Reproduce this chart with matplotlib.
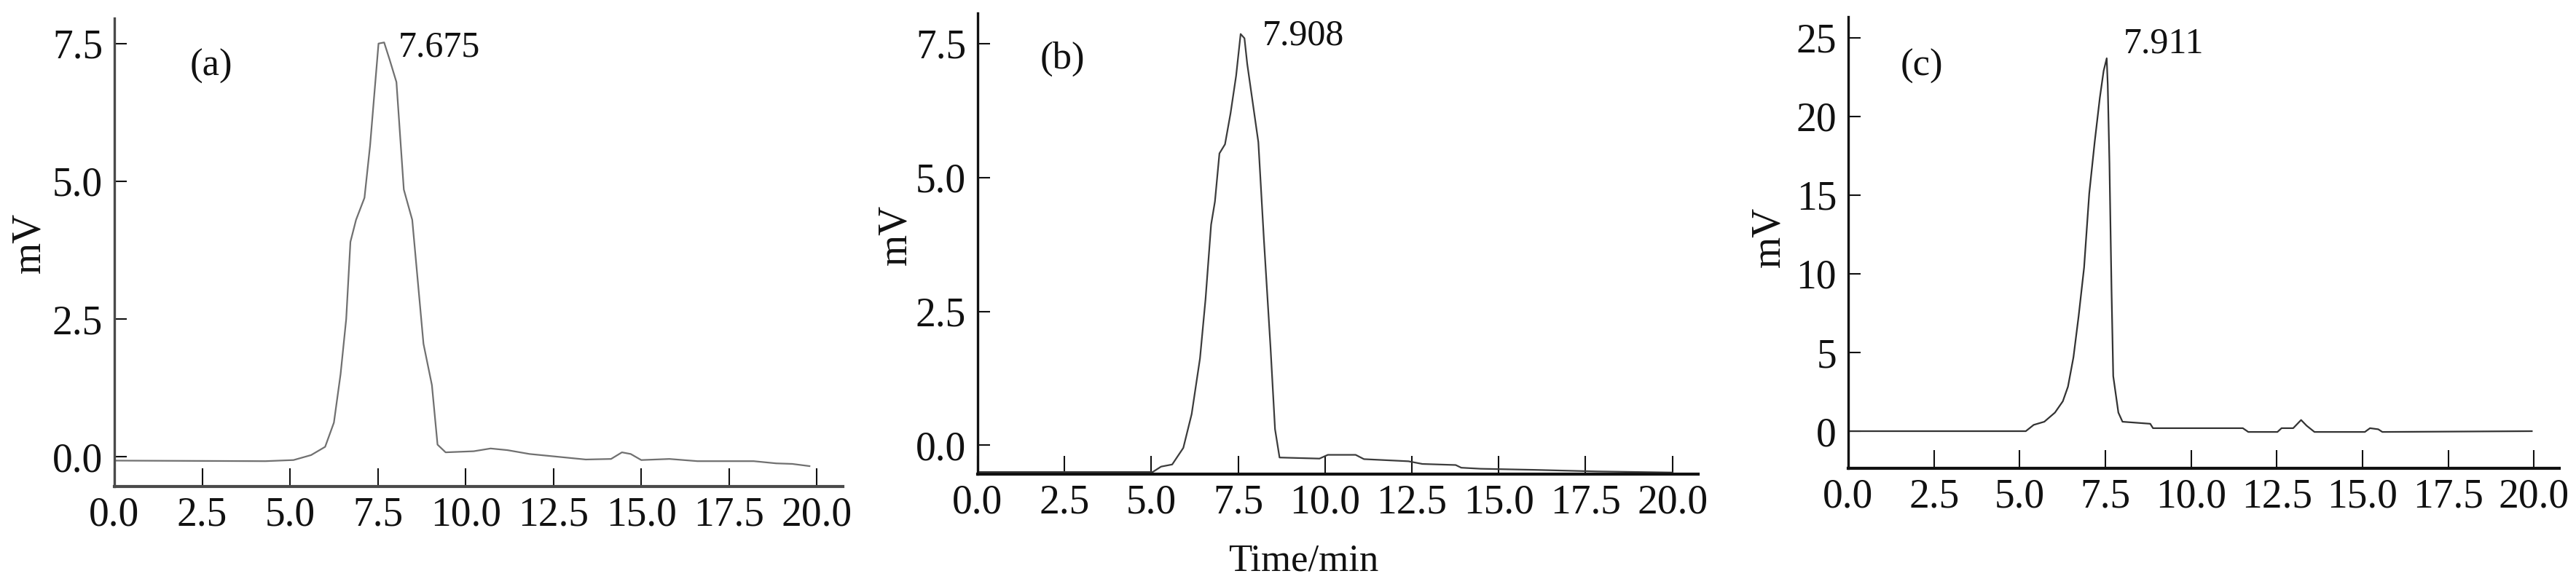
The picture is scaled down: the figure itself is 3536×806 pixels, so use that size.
import matplotlib
matplotlib.use("Agg")
import matplotlib.pyplot as plt

plt.rcParams['font.family'] = ['Liberation Serif', 'DejaVu Serif']

# ---------------- data ----------------
time_a = [0.0, 4.3, 5.1, 5.6, 6.0, 6.25, 6.44, 6.6, 6.72, 6.88, 7.12, 7.28, 7.39, 7.52,
          7.68, 7.84, 8.03, 8.24, 8.48, 8.8, 9.04, 9.2, 9.43, 10.23, 10.71, 11.19, 11.82,
          12.62, 13.42, 14.14, 14.45, 14.7, 15.0, 15.8, 16.6, 18.2, 18.84, 19.3, 19.79]
signal_a = [-0.07, -0.08, -0.06, 0.03, 0.18, 0.62, 1.5, 2.5, 3.9, 4.3, 4.7, 5.65, 6.5, 7.5,
            7.52, 7.2, 6.8, 4.85, 4.3, 2.05, 1.3, 0.22, 0.08, 0.1, 0.15, 0.12, 0.05,
            0.0, -0.05, -0.04, 0.08, 0.05, -0.06, -0.04, -0.08, -0.08, -0.12, -0.13, -0.17]

time_b = [0.0, 5.04, 5.28, 5.6, 5.92, 6.16, 6.4, 6.56, 6.72, 6.83, 6.96, 7.12, 7.28, 7.44,
          7.57, 7.68, 7.76, 8.08, 8.24, 8.43, 8.56, 8.69, 9.84, 10.08, 10.88, 11.12, 12.4,
          12.8, 13.76, 13.92, 14.48, 16.0, 17.84, 20.0]
signal_b = [-0.5, -0.5, -0.4, -0.36, -0.05, 0.58, 1.62, 2.73, 4.12, 4.55, 5.45, 5.62, 6.2, 6.9,
            7.68, 7.6, 7.12, 5.66, 3.84, 1.83, 0.3, -0.23, -0.25, -0.18, -0.18, -0.26, -0.3,
            -0.35, -0.37, -0.42, -0.44, -0.46, -0.49, -0.51]

time_c = [0.0, 5.18, 5.41, 5.72, 6.03, 6.26, 6.41, 6.57, 6.72, 6.88, 7.03, 7.19, 7.34, 7.45,
          7.54, 7.57, 7.62, 7.68, 7.73, 7.88, 8.0, 8.81, 8.89, 11.51, 11.67, 12.52, 12.64,
          12.98, 13.21, 13.37, 13.6, 15.07, 15.22, 15.46, 15.58, 19.94]
signal_c = [0.0, 0.0, 0.4, 0.6, 1.18, 1.9, 2.83, 4.7, 7.3, 10.4, 15.1, 18.4, 21.2, 22.9,
            23.7, 22.0, 17.0, 9.0, 3.5, 1.18, 0.6, 0.47, 0.19, 0.19, -0.05, -0.05, 0.19,
            0.19, 0.71, 0.35, -0.05, -0.05, 0.19, 0.12, -0.05, 0.0]

x_ticks = [0.0, 2.5, 5.0, 7.5, 10.0, 12.5, 15.0, 17.5, 20.0]
x_ticklabels = ["0.0", "2.5", "5.0", "7.5", "10.0", "12.5", "15.0", "17.5", "20.0"]
y_ticks_ab = [0.0, 2.5, 5.0, 7.5]
y_ticklabels_ab = ["0.0", "2.5", "5.0", "7.5"]
y_ticks_c = [0, 5, 10, 15, 20, 25]
y_ticklabels_c = ["0", "5", "10", "15", "20", "25"]

panel_labels = ["(a)", "(b)", "(c)"]
peak_labels = ["7.675", "7.908", "7.911"]

# ---------------- figure ----------------
W, H = 3537, 806
fig = plt.figure(figsize=(W / 100, H / 100), dpi=100)


def px_axes(left, right, top, bottom):
    return fig.add_axes([left / W, 1 - bottom / H, (right - left) / W, (bottom - top) / H])


ax_a = px_axes(157, 1157, 25, 668)
ax_b = px_axes(1342, 2331, 18, 651)
ax_c = px_axes(2537, 3513, 23, 643)

specs = [
    dict(ax=ax_a, t=time_a, s=signal_a, ylim=(-0.54, 7.96), yt=y_ticks_ab, ytl=y_ticklabels_ab,
         line='#707070', spine='#4a4a4a', lab=(2.76, 7.09), pk=(8.08, 7.43)),
    dict(ax=ax_b, t=time_b, s=signal_b, ylim=(-0.54, 8.07), yt=y_ticks_ab, ytl=y_ticklabels_ab,
         line='#3c3c3c', spine='#111111', lab=(2.44, 7.21), pk=(8.19, 7.65)),
    dict(ax=ax_c, t=time_c, s=signal_c, ylim=(-2.36, 26.34), yt=y_ticks_c, ytl=y_ticklabels_c,
         line='#333333', spine='#111111', lab=(2.15, 23.2), pk=(8.02, 24.6)),
]

for i, sp in enumerate(specs):
    ax = sp['ax']
    ax.plot(sp['t'], sp['s'], color=sp['line'], lw=1.6, solid_joinstyle='round')
    ax.set_xlim(0, 20.74)
    ax.set_ylim(*sp['ylim'])
    ax.set_xticks(x_ticks)
    ax.set_xticklabels(x_ticklabels)
    ax.set_yticks(sp['yt'])
    ax.set_yticklabels(sp['ytl'])
    for side in ('top', 'right'):
        ax.spines[side].set_visible(False)
    ax.spines['left'].set_color(sp['spine'])
    ax.spines['left'].set_linewidth(2.4)
    ax.spines['bottom'].set_color(sp['spine'])
    ax.spines['bottom'].set_linewidth(3.0)
    ax.tick_params(axis='x', direction='in', length=18, width=1.5, pad=10,
                   labelsize=40, colors='#111111')
    ax.tick_params(axis='y', direction='in', length=12, width=1.5, pad=11.5,
                   labelsize=40, colors='#111111')
    ax.text(sp['lab'][0], sp['lab'][1], panel_labels[i], fontsize=38,
            ha='center', va='center', color='#111111')
    ax.text(sp['pk'][0], sp['pk'][1], peak_labels[i], fontsize=36,
            ha='left', va='center', color='#111111')

# y labels
for xc, yc in [(40, 333), (1229, 322), (2428, 325)]:
    fig.text(xc / W, 1 - yc / H, "mV", rotation=90, fontsize=40,
             ha='center', va='center', color='#111111')

fig.text(1789 / W, 1 - 770 / H, "Time/min", fontsize=38, ha='center', va='center',
         color='#111111')

fig.savefig("out.png", dpi=100, facecolor='white')
